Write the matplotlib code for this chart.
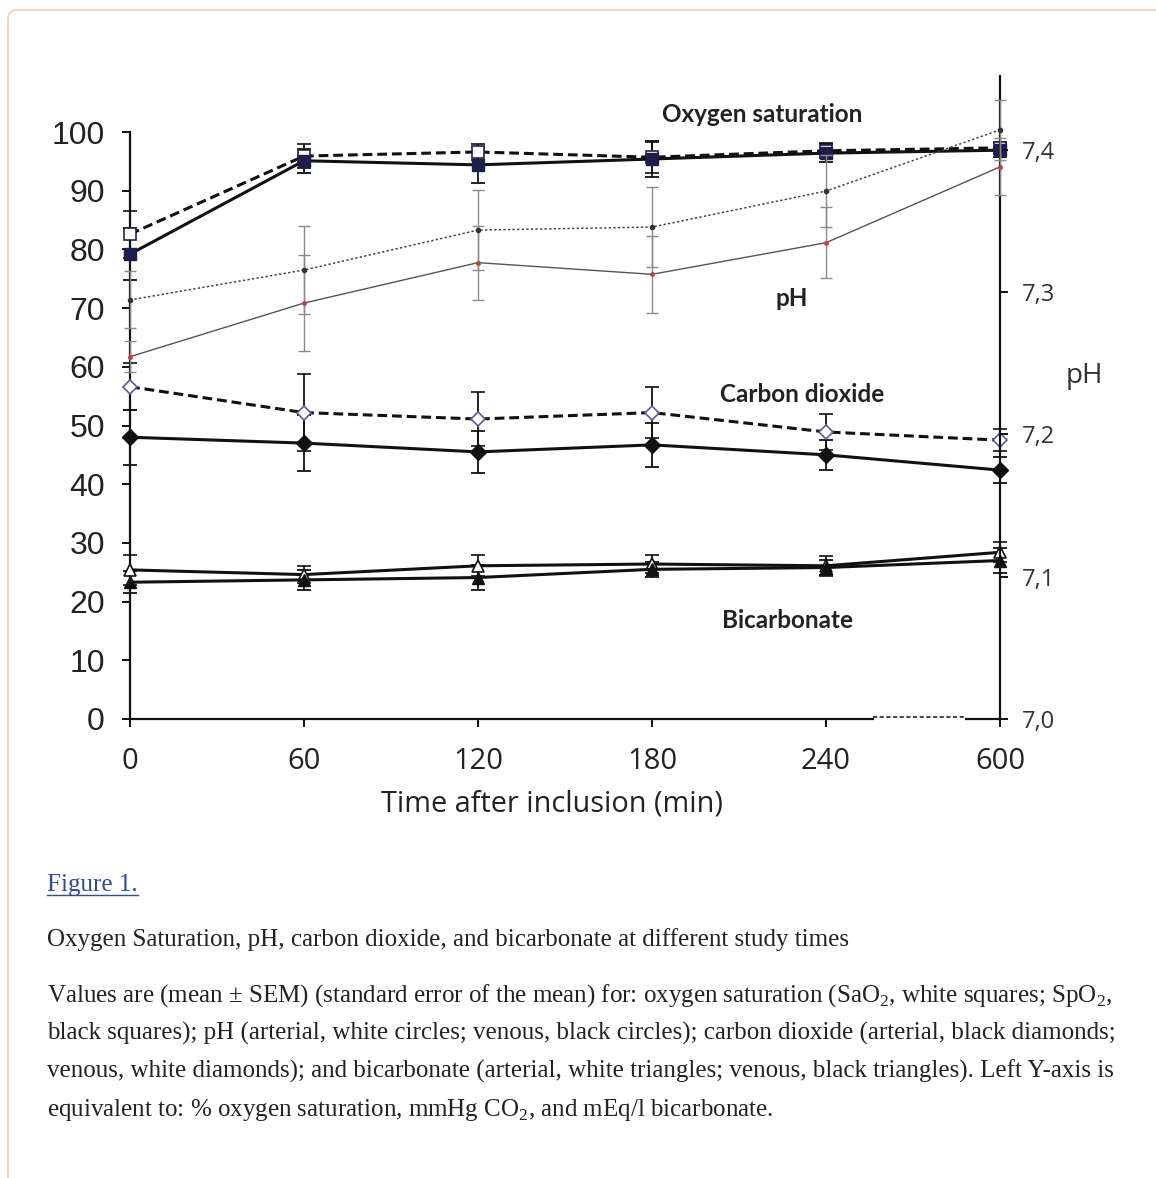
"""Figure 1: oxygen saturation, pH, carbon dioxide and bicarbonate over time."""
import numpy as np
import matplotlib

matplotlib.use("Agg")
import matplotlib.pyplot as plt  # noqa: E402
from matplotlib.patches import FancyBboxPatch  # noqa: E402
from matplotlib.lines import Line2D  # noqa: E402

W, H = 1156, 1178  # output size in pixels (dpi 100)

times = ["0", "60", "120", "180", "240", "600"]

# left axis: % saturation, mmHg CO2, mEq/l bicarbonate (mean, SEM)
sao2 = [82.6, 95.9, 96.6, 95.7, 96.8, 97.3]
sao2_sem = [4.0, 2.0, 1.4, 2.6, 1.3, 1.0]
spo2 = [79.2, 95.1, 94.4, 95.4, 96.4, 96.9]
spo2_sem = [4.4, 2.0, 3.1, 3.1, 1.5, 1.2]
co2_ven = [56.6, 52.2, 51.1, 52.2, 48.9, 47.5]
co2_ven_sem = [4.0, 6.5, 4.6, 4.4, 3.1, 1.9]
co2_art = [48.0, 47.0, 45.5, 46.7, 45.0, 42.4]
co2_art_sem = [4.7, 4.8, 3.6, 3.7, 2.6, 2.2]
hco3_art = [25.4, 24.6, 26.1, 26.4, 26.1, 28.4]
hco3_art_sem = [2.5, 1.5, 1.8, 1.5, 1.7, 1.7]
hco3_ven = [23.3, 23.7, 24.1, 25.5, 25.8, 27.0]
hco3_ven_sem = [1.9, 1.7, 2.2, 1.3, 1.3, 2.2]

# right axis: pH
ph_art = [7.2945, 7.3155, 7.3436, 7.3457, 7.371, 7.414]
ph_art_sem = [0.020, 0.031, 0.028, 0.028, 0.025, 0.021]
ph_ven = [7.2546, 7.2923, 7.3207, 7.3125, 7.3347, 7.388]
ph_ven_sem = [0.011, 0.034, 0.026, 0.027, 0.025, 0.020]

left_ticks = list(range(0, 101, 10))
ph_ticks = [7.0, 7.1, 7.2, 7.3, 7.4]
ph_labels = ["7,0", "7,1", "7,2", "7,3", "7,4"]

caption_lines = [
    "Values are (mean \u00b1 SEM) (standard error of the mean) for: oxygen saturation "
    "(SaO$_\\mathrm{2}$, white squares; SpO$_\\mathrm{2}$,",
    "black squares); pH (arterial, white circles; venous, black circles); carbon dioxide "
    "(arterial, black diamonds;",
    "venous, white diamonds); and bicarbonate (arterial, white triangles; venous, black "
    "triangles). Left Y-axis is",
    "equivalent to: % oxygen saturation, mmHg CO$_\\mathrm{2}$, and mEq/l bicarbonate.",
]

plt.rcParams["mathtext.fontset"] = "custom"
plt.rcParams["mathtext.rm"] = "Liberation Serif"


def fx(px):
    return px / W


def fy(py):
    return 1 - py / H


fig = plt.figure(figsize=(W / 100, H / 100), dpi=100)
fig.patch.set_facecolor("white")

# page frame
fig.add_artist(FancyBboxPatch((fx(8), fy(1200)), fx(1200), (1200 - 10) / H,
                              boxstyle="round,pad=0,rounding_size=0.008",
                              transform=fig.transFigure, fc="none",
                              ec="#f3d8c8", lw=1.6))

ax_top, ax_bot = 73.3, 719.0
ax = fig.add_axes([fx(130), fy(ax_bot), fx(1000) - fx(130), (ax_bot - ax_top) / H])
ax2 = ax.twinx()

x = np.arange(len(times))
ax.set_xlim(0, len(times) - 1)
ax.set_ylim(0, 110)
ax2.set_ylim(7.0, 7.0 + 110 * 5.87 / 1423)

thick = 2.2
err_kw = dict(ecolor="#111111", elinewidth=1.3, capsize=5, capthick=1.3, clip_on=False)

ax.errorbar(x, sao2, yerr=sao2_sem, color="#111111", lw=thick, ls=(0, (3.2, 1.6)),
            marker="s", ms=8, mfc="white", mec="#222244", mew=1.2, zorder=4, **err_kw)
ax.errorbar(x, spo2, yerr=spo2_sem, color="#111111", lw=thick, ls="-",
            marker="s", ms=8, mfc="#1e1e4a", mec="#1e1e4a", zorder=4, **err_kw)
ax.errorbar(x, co2_ven, yerr=co2_ven_sem, color="#111111", lw=thick, ls=(0, (3.2, 1.6)),
            marker="D", ms=7.5, mfc="white", mec="#5a5aa0", mew=1.2, zorder=4, **err_kw)
ax.errorbar(x, co2_art, yerr=co2_art_sem, color="#111111", lw=thick, ls="-",
            marker="D", ms=8, mfc="#111111", mec="#111111", zorder=4, **err_kw)
ax.errorbar(x, hco3_art, yerr=hco3_art_sem, color="#111111", lw=thick, ls="-",
            marker="^", ms=8.5, mfc="white", mec="#111111", mew=1.2, zorder=4, **err_kw)
ax.errorbar(x, hco3_ven, yerr=hco3_ven_sem, color="#111111", lw=thick, ls="-",
            marker="^", ms=8.5, mfc="#111111", mec="#111111", zorder=4, **err_kw)

ph_err = dict(ecolor="#8a8a8a", elinewidth=1.0, capsize=4.5, capthick=1.0, clip_on=False)
ax2.errorbar(x, ph_art, yerr=ph_art_sem, color="#444444", lw=1.1, ls=(0, (1.5, 1.5)),
             marker="o", ms=3, mfc="#333333", mec="#333333", zorder=3, **ph_err)
ax2.errorbar(x, ph_ven, yerr=ph_ven_sem, color="#555555", lw=1.0, ls="-",
             marker="o", ms=2.5, mfc="#c04040", mec="#c04040", zorder=3, **ph_err)

# spines and ticks
for a in (ax, ax2):
    a.spines["top"].set_visible(False)
    a.set_facecolor("none")
ax.spines["right"].set_visible(False)
ax2.spines["left"].set_visible(False)
ax2.spines["bottom"].set_visible(False)
ax.spines["left"].set_bounds(0, 100)
ax.spines["bottom"].set_bounds(0, 4.27)
ax2.spines["right"].set_bounds(7.0, 7.452)
for s in ("left", "bottom"):
    ax.spines[s].set_linewidth(1.6)
    ax.spines[s].set_color("#111111")
ax2.spines["right"].set_linewidth(1.6)
ax2.spines["right"].set_color("#111111")

# broken stretch of the time axis before 600 min
ax.plot([4.27, 4.8], [0.3, 0.3], color="#222222", lw=1.2, ls=(0, (2.5, 1.5)), clip_on=False)
ax.plot([4.8, 5.0], [0, 0], color="#111111", lw=1.6, clip_on=False, solid_capstyle="butt")

ax.set_yticks(left_ticks)
ax.set_yticklabels([str(t) for t in left_ticks], fontfamily="Liberation Sans",
                   fontsize=23, color="#222222")
ax.set_xticks(x)
ax.set_xticklabels(times, fontfamily="Open Sans", fontsize=21, color="#222222")
ax.tick_params(axis="y", direction="out", length=6, width=1.4, pad=12, color="#111111")
ax.tick_params(axis="x", direction="out", length=6, width=1.4, pad=14, color="#111111")
ax2.set_yticks(ph_ticks)
ax2.set_yticklabels(ph_labels, fontfamily="Open Sans", fontsize=17, color="#333333")
ax2.tick_params(axis="y", direction="out", length=6, width=1.4, pad=10, color="#111111")

fig.text(fx(552), fy(804), "Time after inclusion (min)", ha="center", va="center",
         fontfamily="Open Sans", fontsize=20.8, color="#222222")
fig.text(fx(1084), fy(376), "pH", ha="center", va="center",
         fontfamily="Open Sans", fontsize=20, color="#333333")

bold = dict(ha="center", va="center", fontfamily="Lato", fontweight="bold",
            fontsize=17.5, color="#222222")
fig.text(fx(762), fy(115), "Oxygen saturation", **bold)
fig.text(fx(792), fy(298), "pH", **bold)
fig.text(fx(802), fy(395), "Carbon dioxide", **bold)
fig.text(fx(788), fy(620), "Bicarbonate", **bold)

# caption
serif = dict(fontfamily="Liberation Serif", fontsize=18, va="baseline", ha="left")
t = fig.text(fx(47), fy(891), "Figure 1.", color="#2e4d96", **serif)
fig.canvas.draw()
bb = t.get_window_extent()
fig.add_artist(Line2D([bb.x0 / W, bb.x1 / W], [fy(895), fy(895)],
                      transform=fig.transFigure, color="#2e4d96", lw=1.0))
fig.text(fx(47), fy(946), "Oxygen Saturation, pH, carbon dioxide, and bicarbonate at "
         "different study times", color="#222222", **serif)
for i, line in enumerate(caption_lines):
    fig.text(fx(47), fy(1002 + 38 * i), line, color="#222222", **serif)

fig.savefig("out.png", dpi=100)
